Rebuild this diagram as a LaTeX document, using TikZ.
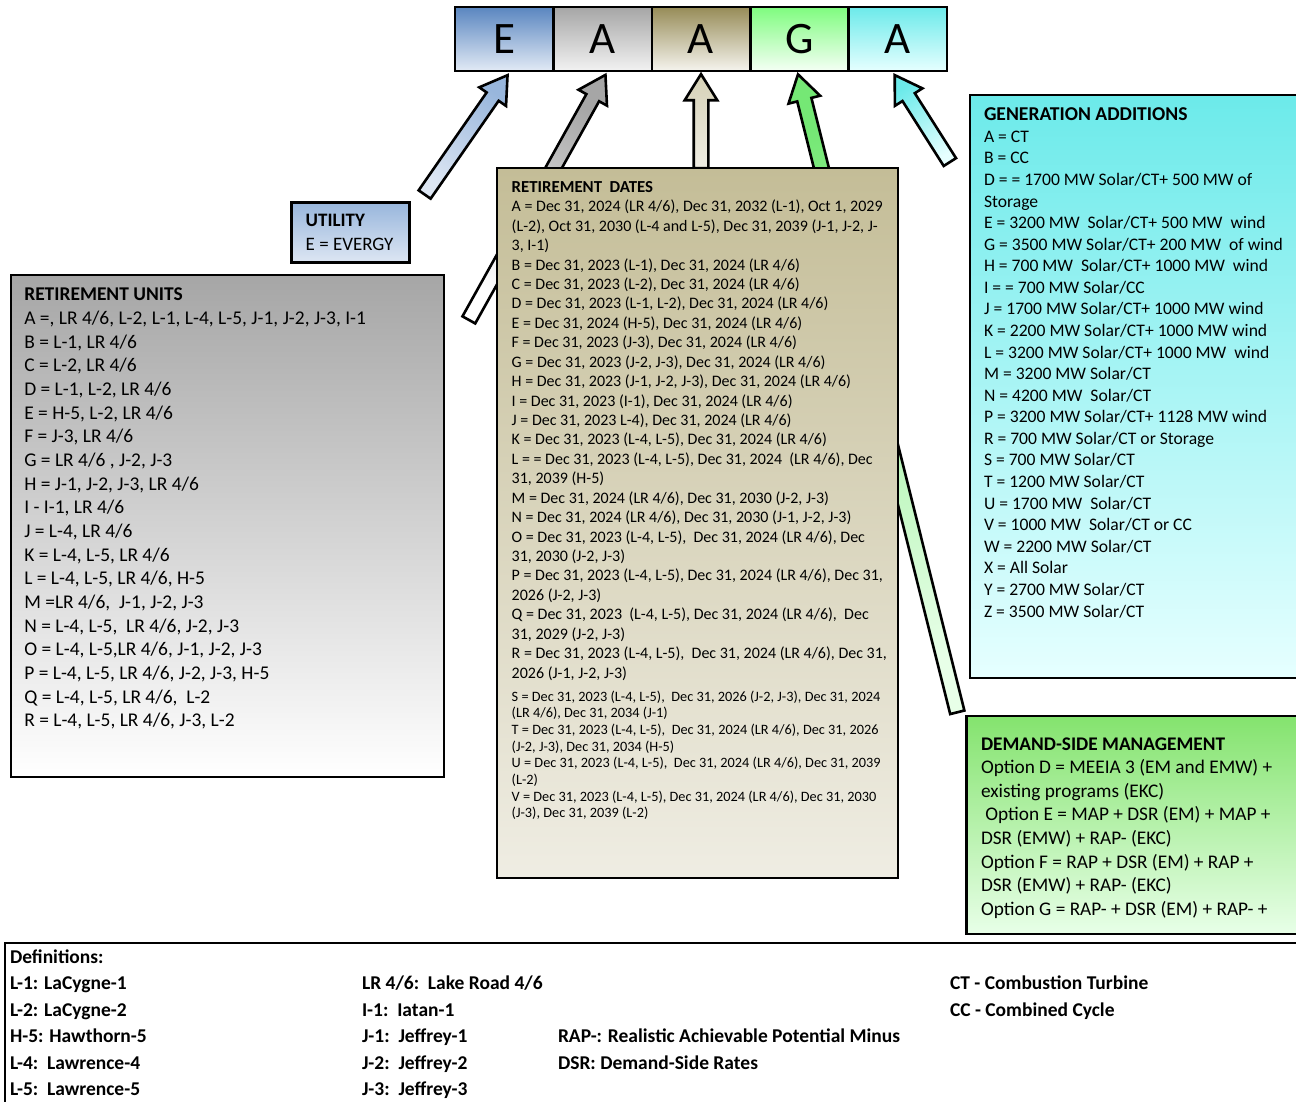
\documentclass[tikz,border=0pt]{standalone}
\usepackage{fontspec}
\setmainfont{Carlito}
\usetikzlibrary{calc,positioning,shapes.arrows,backgrounds}

\definecolor{evblue}{HTML}{5A86C0}
\definecolor{evbluelt}{HTML}{E2EAF5}
\definecolor{utilblue}{HTML}{98B6DC}
\definecolor{utilbluelt}{HTML}{DDE6F3}
\definecolor{unitgray}{HTML}{A6A6A6}
\definecolor{celltan}{HTML}{978C58}
\definecolor{datetan}{HTML}{C4BD97}
\definecolor{datetanlt}{HTML}{EFEDE3}
\definecolor{cellgreen}{HTML}{7FFC7F}
\definecolor{dsmgreen}{HTML}{84E36E}
\definecolor{dsmgreenlt}{HTML}{E8FFE8}
\definecolor{gencyan}{HTML}{6CEAEA}
\definecolor{gencyanlt}{HTML}{E6FFFF}

\newcommand{\fs}[2]{\fontsize{#1}{#2}\selectfont}
% block arrow: tail #1, tip #2, name #3, tail colour #4, tip colour #5
\newcommand{\blockarrow}[5]{%
  \path let \p1=(#1), \p2=(#2), \p3=($(\p2)-(\p1)$),
            \n1={atan2(\y3,\x3)}, \n2={veclen(\x3,\y3)}, \n3={\n1-90} in
    node[bigarrow, minimum height=\n2, rotate=\n1, top color=#5, bottom color=#4, shading angle=\n3]
      (#3) at ($(\p1)!0.5!(\p2)$) {};}

\begin{document}
\begin{tikzpicture}[x=1pt,y=-1pt,
  box/.style={draw=black, line width=2.6pt, rectangle, inner sep=0pt, outer sep=0pt, anchor=north west},
  cell/.style={draw=black, line width=2.6pt, rectangle, inner sep=0pt, outer sep=0pt,
    minimum width=98.4pt, minimum height=64pt, font=\fs{45}{54}},
  txt/.style={anchor=north west, inner sep=0pt, outer sep=0pt, align=left},
  bigarrow/.style={single arrow, draw=black, line width=2.6pt, inner sep=6pt, outer sep=0pt,
    single arrow head extend=9pt, single arrow tip angle=64, minimum width=0pt}]

	\useasboundingbox (0,0) rectangle (1296,1101);
	\clip (0,0) rectangle (1296,1101);

	% NAME CELLS

	\node[cell, top color=evblue, bottom color=evbluelt] (cellE) at (504.2,39) {E};
	\node[cell, top color=unitgray, bottom color=white!95!black, right=0pt of cellE] (cellA1) {A};
	\node[cell, top color=celltan, bottom color=datetanlt!60!white, right=0pt of cellA1] (cellA2) {A};
	\node[cell, top color=cellgreen, bottom color=green!4!white, right=0pt of cellA2] (cellG) {G};
	\node[cell, top color=gencyan, bottom color=gencyanlt, right=0pt of cellG] (cellA3) {A};

	% BOXES

	\node[box, minimum width=117.6pt, minimum height=60pt, top color=utilblue, bottom color=utilbluelt] (utility) at (291.7,202.3) {};
	\node[box, minimum width=433pt, minimum height=502pt, top color=unitgray, bottom color=white] (units) at (11,275) {};
	\node[box, minimum width=401pt, minimum height=710pt, top color=datetan, bottom color=datetanlt] (dates) at (497,168) {};
	\node[box, minimum width=345pt, minimum height=583pt, top color=gencyan, bottom color=gencyanlt] (gen) at (970,95) {};
	\node[box, minimum width=350pt, minimum height=218pt, top color=dsmgreen, bottom color=dsmgreenlt] (dsm) at (966.7,716) {};
	\node[box, minimum width=1310pt, minimum height=180pt, fill=white] (defs) at (5,943) {};

	% ARROWS

	\coordinate (tailE) at ($(utility.north east)+(12,-3)$);
	\coordinate (tailA1) at ($(units.north east)+(22,50)$);
	\coordinate (tailA2) at ($(cellA2.south |- dates.north)+(0,6)$);
	\coordinate (tailG) at ($(dsm.north west)+(-8,2)$);
	\coordinate (tailA3) at ($(gen.north west)+(-17,72)$);

	\begin{scope}[on background layer]
		\blockarrow{tailE}{$(cellE.south)+(0,9)$}{arrE}{utilbluelt}{utilblue}
		\blockarrow{tailA1}{$(cellA1.south)+(0,9)$}{arrA1}{white}{unitgray}
		\blockarrow{tailA2}{$(cellA2.south)+(0,9)$}{arrA2}{datetanlt}{datetan!70!white}
		\blockarrow{tailG}{$(cellG.south)+(0,9)$}{arrG}{dsmgreenlt}{cellgreen!92!black}
		\blockarrow{tailA3}{$(cellA3.south)+(0,9)$}{arrA3}{gencyanlt}{gencyan}
	\end{scope}

	% TEXTS

	\node[txt, font=\fs{19}{23.7}] (utilitytxt) at ($(utility.north west)+(14,8.1)$) {\strut\textbf{UTILITY}\\E = EVERGY};

	\node[txt, font=\fs{19.45}{23.65}] (unitstxt) at ($(units.north west)+(13.3,9.4)$) {\strut\textbf{RETIREMENT UNITS}\\
		A =, LR 4/6, L-2, L-1, L-4, L-5, J-1, J-2, J-3, I-1\\
		B = L-1, LR 4/6\\
		C = L-2, LR 4/6\\
		D = L-1, L-2, LR 4/6\\
		E = H-5, L-2, LR 4/6\\
		F = J-3, LR 4/6\\
		G = LR 4/6 , J-2, J-3\\
		H = J-1, J-2, J-3, LR 4/6\\
		I - I-1, LR 4/6\\
		J = L-4, LR 4/6\\
		K = L-4, L-5, LR 4/6\\
		L = L-4, L-5, LR 4/6, H-5\\
		M =LR 4/6,\ \ J-1, J-2, J-3\\
		N = L-4, L-5,\ \ LR 4/6, J-2, J-3\\
		O = L-4, L-5,LR 4/6, J-1, J-2, J-3\\
		P = L-4, L-5, LR 4/6, J-2, J-3, H-5\\
		Q = L-4, L-5, LR 4/6,\ \ L-2\\
		R = L-4, L-5, LR 4/6, J-3, L-2};

	\node[txt, font=\fs{16}{19.43}] (datestxt) at ($(dates.north west)+(14.7,10.7)$) {\strut{\fs{16.8}{19.43}\bfseries RETIREMENT\ \ DATES}\\
		A = Dec 31, 2024 (LR 4/6), Dec 31, 2032 (L-1), Oct 1, 2029\\
		(L-2), Oct 31, 2030 (L-4 and L-5), Dec 31, 2039 (J-1, J-2, J-\\
		3, I-1)\\
		B = Dec 31, 2023 (L-1), Dec 31, 2024 (LR 4/6)\\
		C = Dec 31, 2023 (L-2), Dec 31, 2024 (LR 4/6)\\
		D = Dec 31, 2023 (L-1, L-2), Dec 31, 2024 (LR 4/6)\\
		E = Dec 31, 2024 (H-5), Dec 31, 2024 (LR 4/6)\\
		F = Dec 31, 2023 (J-3), Dec 31, 2024 (LR 4/6)\\
		G = Dec 31, 2023 (J-2, J-3), Dec 31, 2024 (LR 4/6)\\
		H = Dec 31, 2023 (J-1, J-2, J-3), Dec 31, 2024 (LR 4/6)\\
		I = Dec 31, 2023 (I-1), Dec 31, 2024 (LR 4/6)\\
		J = Dec 31, 2023 L-4), Dec 31, 2024 (LR 4/6)\\
		K = Dec 31, 2023 (L-4, L-5), Dec 31, 2024 (LR 4/6)\\
		L = = Dec 31, 2023 (L-4, L-5), Dec 31, 2024\ \ (LR 4/6), Dec\\
		31, 2039 (H-5)\\
		M = Dec 31, 2024 (LR 4/6), Dec 31, 2030 (J-2, J-3)\\
		N = Dec 31, 2024 (LR 4/6), Dec 31, 2030 (J-1, J-2, J-3)\\
		O = Dec 31, 2023 (L-4, L-5),\ \ Dec 31, 2024 (LR 4/6), Dec\\
		31, 2030 (J-2, J-3)\\
		P = Dec 31, 2023 (L-4, L-5), Dec 31, 2024 (LR 4/6), Dec 31,\\
		2026 (J-2, J-3)\\
		Q = Dec 31, 2023\ \ (L-4, L-5), Dec 31, 2024 (LR 4/6),\ \ Dec\\
		31, 2029 (J-2, J-3)\\
		R = Dec 31, 2023 (L-4, L-5),\ \ Dec 31, 2024 (LR 4/6), Dec 31,\\
		2026 (J-1, J-2, J-3)};
	\node[txt, font=\fs{14.3}{16.7}] (datestxt2) at ($(dates.north west)+(14.7,521.3)$) {\strut
		S = Dec 31, 2023 (L-4, L-5),\ \ Dec 31, 2026 (J-2, J-3), Dec 31, 2024\\
		(LR 4/6), Dec 31, 2034 (J-1)\\
		T = Dec 31, 2023 (L-4, L-5),\ \ Dec 31, 2024 (LR 4/6), Dec 31, 2026\\
		(J-2, J-3), Dec 31, 2034 (H-5)\\
		U = Dec 31, 2023 (L-4, L-5),\ \ Dec 31, 2024 (LR 4/6), Dec 31, 2039\\
		(L-2)\\
		V = Dec 31, 2023 (L-4, L-5), Dec 31, 2024 (LR 4/6), Dec 31, 2030\\
		(J-3), Dec 31, 2039 (L-2)};

	\node[txt, font=\fs{17.6}{21.58}] (gentxt) at ($(gen.north west)+(14,10.6)$) {\strut{\fs{19.6}{21.58}\bfseries GENERATION ADDITIONS}\\
		A = CT\\
		B = CC\\
		D = = 1700 MW Solar/CT+ 500 MW of\\
		Storage\\
		E = 3200 MW\ \ Solar/CT+ 500 MW\ \ wind\\
		G = 3500 MW Solar/CT+ 200 MW\ \ of wind\\
		H = 700 MW\ \ Solar/CT+ 1000 MW\ \ wind\\
		I = = 700 MW Solar/CC\\
		J = 1700 MW Solar/CT+ 1000 MW wind\\
		K = 2200 MW Solar/CT+ 1000 MW wind\\
		L = 3200 MW Solar/CT+ 1000 MW\ \ wind\\
		M = 3200 MW Solar/CT\\
		N = 4200 MW\ \ Solar/CT\\
		P = 3200 MW Solar/CT+ 1128 MW wind\\
		R = 700 MW Solar/CT or Storage\\
		S = 700 MW Solar/CT\\
		T = 1200 MW Solar/CT\\
		U = 1700 MW\ \ Solar/CT\\
		V = 1000 MW\ \ Solar/CT or CC\\
		W = 2200 MW Solar/CT\\
		X = All Solar\\
		Y = 2700 MW Solar/CT\\
		Z = 3500 MW Solar/CT};

	\node[txt, font=\fs{19.3}{23.6}] (dsmtxt) at ($(dsm.north west)+(14.3,17.5)$) {\strut\textbf{DEMAND-SIDE MANAGEMENT}\\
		Option D = MEEIA 3 (EM and EMW) +\\
		existing programs (EKC)\\
		\ Option E = MAP + DSR (EM) + MAP +\\
		DSR (EMW) + RAP- (EKC)\\
		Option F = RAP + DSR (EM) + RAP +\\
		DSR (EMW) + RAP- (EKC)\\
		Option G = RAP- + DSR (EM) + RAP- +};

	% DEFINITIONS

	\node[txt, font=\fs{19.5}{26.5}\bfseries] (defs1) at ($(defs.north west)+(5,1.5)$) {\strut Definitions:\\
		L-1: LaCygne-1\\
		L-2: LaCygne-2\\
		H-5: Hawthorn-5\\
		L-4:\ \ Lawrence-4\\
		L-5:\ \ Lawrence-5};
	\node[txt, font=\fs{19.5}{26.5}\bfseries] (defs2) at ($(defs.north west)+(357,28)$) {\strut LR 4/6:\ \ Lake Road 4/6\\
		I-1:\ \ Iatan-1\\
		J-1:\ \ Jeffrey-1\\
		J-2:\ \ Jeffrey-2\\
		J-3:\ \ Jeffrey-3};
	\node[txt, font=\fs{19.5}{26.5}\bfseries] (defs3) at ($(defs.north west)+(553,81)$) {\strut RAP-: Realistic Achievable Potential Minus\\
		DSR: Demand-Side Rates};
	\node[txt, font=\fs{19.5}{26.5}\bfseries] (defs4) at ($(defs.north west)+(945,28)$) {\strut CT - Combustion Turbine\\
		CC - Combined Cycle};
\end{tikzpicture}
\end{document}
